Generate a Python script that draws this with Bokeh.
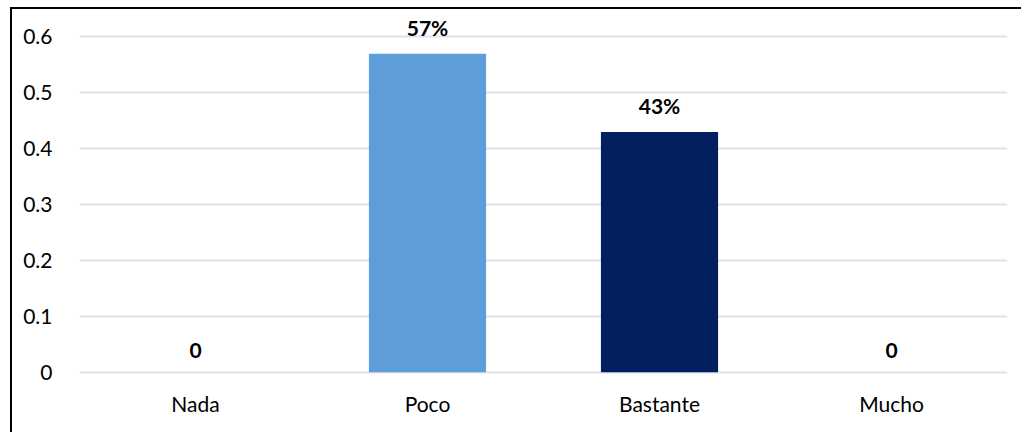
from bokeh.plotting import figure
from bokeh.models import ColumnDataSource, FixedTicker, Range1d
from bokeh.core.properties import value
from bokeh.embed import file_html
from bokeh.resources import INLINE

categories = ["Nada", "Poco", "Bastante", "Mucho"]
values = [0, 0.57, 0.43, 0]
labels = ["0", "57%", "43%", "0"]
colors = ["#5B9BD5", "#5C9DDA", "#02205F", "#5B9BD5"]
y_ticks = [0, 0.1, 0.2, 0.3, 0.4, 0.5, 0.6]

src = ColumnDataSource(dict(cat=categories, val=values, lab=labels, col=colors))

p = figure(x_range=categories, y_range=Range1d(-0.004, 0.64),
           width=1011, height=425, output_backend="svg", toolbar_location=None,
           min_border_left=67, min_border_right=16, min_border_top=5, min_border_bottom=60)
p.margin = (7, 0, 0, 10)
p.styles = {"border-top": "2px solid black", "border-left": "2px solid black"}
p.outline_line_color = None
p.background_fill_color = "white"
p.border_fill_color = "white"

p.vbar(x="cat", top="val", width=0.505, fill_color="col", line_color=None, source=src)
p.text(x="cat", y="val", text="lab", source=src, text_align="center", text_baseline="bottom",
       y_offset=-14, text_font=value("Lato"), text_font_style="bold", text_font_size="21px",
       text_color="#000000")

p.yaxis.ticker = FixedTicker(ticks=y_ticks)
p.yaxis.major_label_overrides = {0: "0"}
for ax in (p.xaxis, p.yaxis):
    ax.axis_line_color = None
    ax.major_tick_line_color = None
    ax.minor_tick_line_color = None
    ax.major_label_text_font = "Lato"
    ax.major_label_text_font_size = "21px"
    ax.major_label_text_color = "#000000"
p.yaxis.major_label_standoff = 21
p.xaxis.major_label_standoff = 10
p.xgrid.grid_line_color = None
p.ygrid.grid_line_color = "#DEE2E9"
p.ygrid.grid_line_width = 2

open("out.html", "w").write(file_html(p, INLINE))
